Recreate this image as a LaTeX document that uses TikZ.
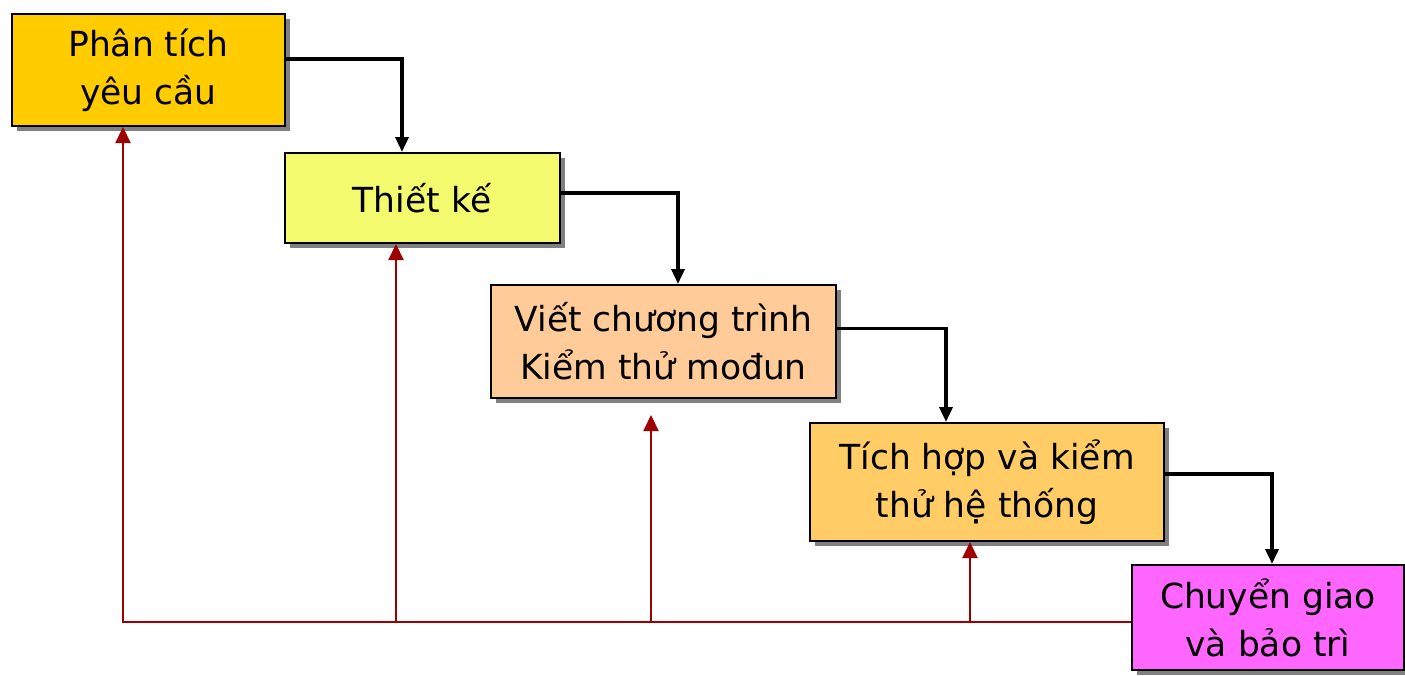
\documentclass[tikz,border=0pt]{standalone}
\usepackage{fontspec}
\setmainfont{DejaVu Sans}
\usetikzlibrary{arrows.meta,shadows}
\definecolor{cPhan}{HTML}{FFCC00}
\definecolor{cThiet}{HTML}{F4FA6E}
\definecolor{cViet}{HTML}{FFCC99}
\definecolor{cTich}{HTML}{FFCC66}
\definecolor{cChuyen}{HTML}{FF66FF}
\definecolor{cBack}{HTML}{9E0000}
\tikzset{
	phase/.style={draw=black, line width=2pt, align=center, inner sep=0pt,
		font=\fontsize{34.5}{48}\selectfont,
		drop shadow={shadow xshift=5pt, shadow yshift=-5pt, fill=black!50, opacity=1}},
	flow/.style={draw=black, line width=3.5pt, -{Triangle[length=15pt,width=13pt]}},
	back/.style={draw=cBack, line width=2.2pt, -{Triangle[length=16pt,width=15pt]}}
}
\begin{document}
	\begin{tikzpicture}[x=1pt, y=-1pt]
		\useasboundingbox (0,0) rectangle (1405,675);
		\node[phase, fill=cPhan, minimum width=273pt, minimum height=112pt] (phantich) at (148.5, 70) {Phân tích\\yêu cầu};
		\node[phase, fill=cThiet, minimum width=275pt, minimum height=90pt] (thietke) at (422.5, 198) {Thiết kế};
		\node[phase, fill=cViet, minimum width=345pt, minimum height=113pt] (vietct) at (663.5, 341.5) {Viết chương trình\\Kiểm thử mođun};
		\node[phase, fill=cTich, minimum width=354pt, minimum height=118pt] (tichhop) at (987, 482) {Tích hợp và kiểm\\thử hệ thống};
		\node[phase, fill=cChuyen, minimum width=272pt, minimum height=105pt] (chuyengiao) at (1268, 617.5) {Chuyển giao\\và bảo trì};
		% luong xuong
		\draw[flow] ([yshift=11pt]phantich.east) -| ([xshift=-20.5pt]thietke.north);
		\draw[flow] ([yshift=5pt]thietke.east) -| ([xshift=14.5pt]vietct.north);
		\draw[flow] ([yshift=13pt]vietct.east) -| ([xshift=-41pt]tichhop.north);
		\draw[flow] ([yshift=8pt]tichhop.east) -| ([xshift=4pt]chuyengiao.north);
		% quay lui
		\coordinate (day) at (123, 622);
		\coordinate (dich) at (651, 415);
		\draw[back] ([yshift=-4.5pt]chuyengiao.west) -- (day) -- (day |- phantich.south);
		\draw[back] (day -| 396,0) -- (396,0 |- thietke.south);
		\draw[back] (day -| dich) -- (dich);
		\draw[back] (day -| 970,0) -- (970,0 |- tichhop.south);
	\end{tikzpicture}
\end{document}
